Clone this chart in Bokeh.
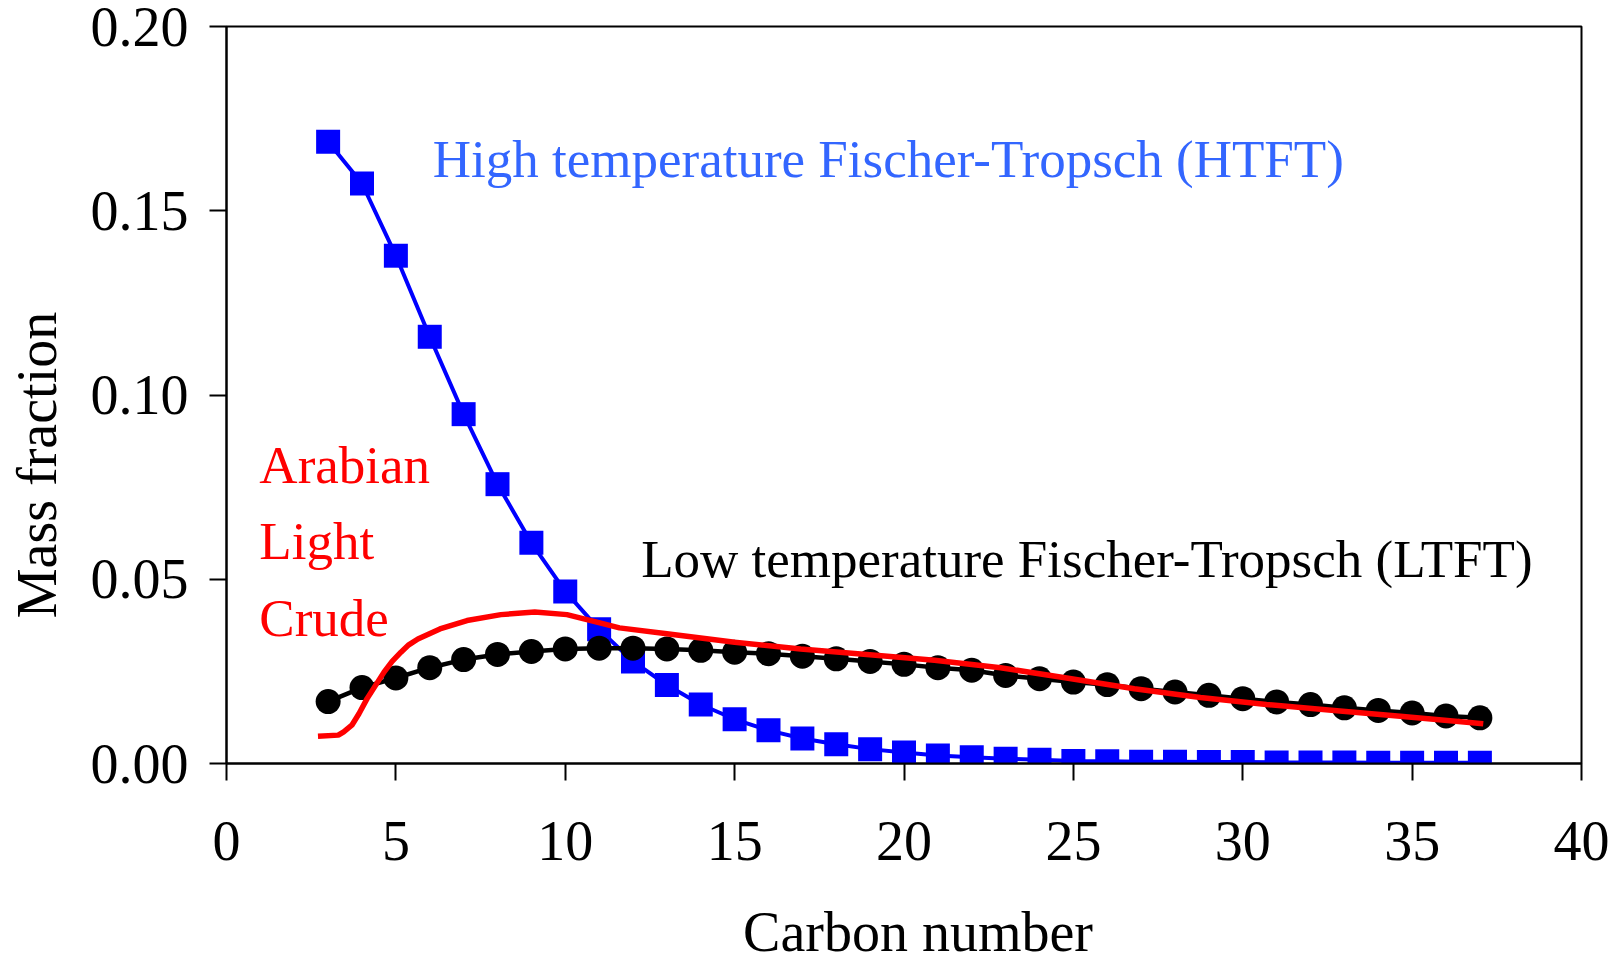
from bokeh.plotting import figure
from bokeh.models import FixedTicker, PrintfTickFormatter, Range1d
from bokeh.core.properties import value
from bokeh.embed import file_html
from bokeh.resources import INLINE

carbon = list(range(3, 38))
htft = [0.1687, 0.1574, 0.1378, 0.1158, 0.0948, 0.0758, 0.0599, 0.0467, 0.0364,
        0.0277, 0.0213, 0.0160, 0.0120, 0.0090, 0.0068, 0.0052, 0.0039, 0.0030,
        0.0022, 0.0017, 0.0013, 0.0010, 0.0007, 0.0006, 0.0005, 0.0005, 0.0004,
        0.0004, 0.0003, 0.0003, 0.0003, 0.0002, 0.0002, 0.0002, 0.0002]
ltft = [0.0168, 0.0206, 0.0232, 0.0260, 0.0282, 0.0296, 0.0304, 0.0311, 0.0313,
        0.0313, 0.0311, 0.0307, 0.0302, 0.0298, 0.0291, 0.0284, 0.0277, 0.0269,
        0.0260, 0.0253, 0.0239, 0.0230, 0.0221, 0.0214, 0.0203, 0.0194, 0.0185,
        0.0176, 0.0167, 0.0160, 0.0151, 0.0144, 0.0137, 0.0129, 0.0124]
crude_x = [2.7, 3.3, 3.46, 3.7, 3.91, 4.15, 4.4, 4.65, 4.89, 5.15, 5.38, 5.65,
           6.3, 7.1, 8.1, 9.1, 10.05, 11.05, 11.6, 13.0, 15.0, 16.95, 18.9,
           20.9, 22.85, 24.8, 26.8, 28.75, 30.7, 32.7, 34.65, 37.1]
crude_y = [0.0074, 0.0077, 0.0086, 0.0104, 0.0135, 0.0176, 0.0212, 0.0248,
           0.0277, 0.0302, 0.0322, 0.0338, 0.0365, 0.0388, 0.0404, 0.0411,
           0.0404, 0.0381, 0.0368, 0.0352, 0.0329, 0.0311, 0.0296, 0.0280,
           0.0260, 0.0232, 0.0203, 0.0179, 0.0160, 0.0144, 0.0128, 0.0108]
x_ticks = [0, 5, 10, 15, 20, 25, 30, 35, 40]
y_ticks = [0.0, 0.05, 0.10, 0.15, 0.20]

FONT = "Liberation Serif"
NB = "\u00a0"

p = figure(width=1621, height=965, output_backend="svg", toolbar_location=None,
           x_range=Range1d(0, 40), y_range=Range1d(0, 0.2),
           min_border_left=226, min_border_right=40, min_border_top=26,
           min_border_bottom=200)
p.xgrid.visible = False
p.ygrid.visible = False
p.outline_line_color = "black"
p.outline_line_width = 2
p.background_fill_color = "white"
p.border_fill_color = "white"

for ax in (p.xaxis[0], p.yaxis[0]):
    ax.axis_line_width = 2
    ax.axis_line_color = "black"
    ax.major_tick_line_width = 2
    ax.major_tick_line_color = "black"
    ax.major_tick_in = 0
    ax.major_tick_out = 17
    ax.minor_tick_line_color = None
    ax.major_label_text_font = FONT
    ax.major_label_text_font_size = "56px"
    ax.major_label_text_color = "black"
    ax.axis_label_text_font = FONT
    ax.axis_label_text_font_size = "56px"
    ax.axis_label_text_font_style = "normal"
    ax.axis_label_text_color = "black"

p.xaxis[0].ticker = FixedTicker(ticks=x_ticks)
p.yaxis[0].ticker = FixedTicker(ticks=y_ticks)
p.yaxis[0].formatter = PrintfTickFormatter(format="%.2f")
p.xaxis[0].major_label_standoff = 41
p.yaxis[0].major_label_standoff = 21
# non-breaking spaces nudge the titles to where the reference shows them
p.xaxis[0].axis_label = NB * 2 + "Carbon number"
p.yaxis[0].axis_label = "Mass fraction" + NB * 10
p.xaxis[0].axis_label_standoff = 38
p.yaxis[0].axis_label_standoff = 20

# HTFT
p.line(carbon, htft, line_color="#0000FF", line_width=4)
p.scatter(carbon, htft, marker="square", size=24, fill_color="#0000FF",
          line_color="#0000FF", line_width=0)
# LTFT
p.line(carbon, ltft, line_color="black", line_width=4.5)
p.scatter(carbon, ltft, marker="circle", size=25, fill_color="black",
          line_color="black", line_width=0)
# Arabian light crude
p.line(crude_x, crude_y, line_color="#FF0000", line_width=5.5)

p.text(x=[6.09], y=[0.1640], text=["High temperature Fischer-Tropsch (HTFT)"],
       text_font=value(FONT), text_font_size="53px", text_color="#3366FF",
       text_align="left", text_baseline="alphabetic")
p.text(x=[12.24], y=[0.0554], text=["Low temperature Fischer-Tropsch (LTFT)"],
       text_font=value(FONT), text_font_size="53px", text_color="black",
       text_align="left", text_baseline="alphabetic")
p.text(x=[0.97, 0.97, 0.97], y=[0.0811, 0.0604, 0.0396],
       text=["Arabian", "Light", "Crude"],
       text_font=value(FONT), text_font_size="53px", text_color="#FF0000",
       text_align="left", text_baseline="alphabetic")

open("out.html", "w").write(file_html(p, INLINE))
